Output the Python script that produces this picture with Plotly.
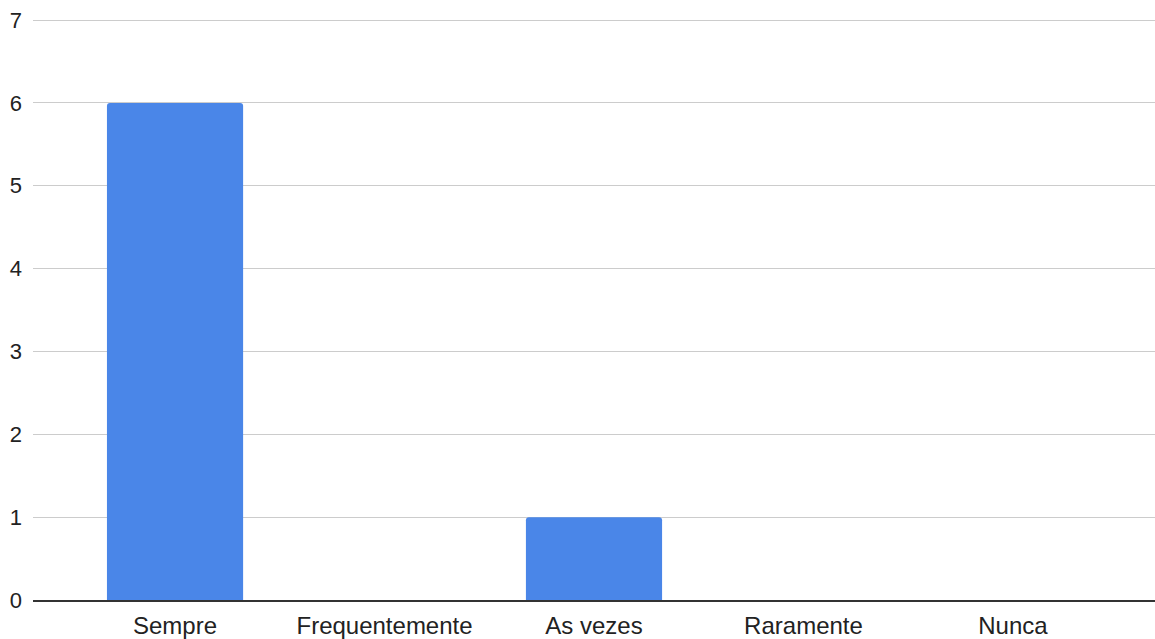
import plotly.graph_objects as go

categories = ["Sempre", "Frequentemente", "As vezes", "Raramente", "Nunca"]
counts = [6, 0, 1, 0, 0]
y_ticks = [0, 1, 2, 3, 4, 5, 6, 7]

fig = go.Figure(
    go.Bar(
        x=categories,
        y=counts,
        marker=dict(color="#4a86e8", line=dict(width=0), cornerradius=3),
        width=0.65,
        hoverinfo="x+y",
    )
)

fig.update_layout(
    width=1155,
    height=639,
    margin=dict(l=33, r=0, t=18, b=39),
    paper_bgcolor="white",
    plot_bgcolor="white",
    showlegend=False,
    font=dict(family="Liberation Sans, Arial, sans-serif", color="#222222"),
)

fig.update_xaxes(
    range=[-0.678, 4.678],
    showgrid=False,
    showline=True,
    linecolor="#333333",
    linewidth=2,
    ticks="",
    tickfont=dict(size=24, color="#222222"),
    ticklabelstandoff=3,
    fixedrange=True,
)

# slight headroom above 7 so its gridline is drawn inside the plot area
fig.update_yaxes(
    range=[0, 7.025],
    tickvals=y_ticks,
    ticktext=[str(v) for v in y_ticks],
    showgrid=True,
    gridcolor="#cccccc",
    gridwidth=1,
    zeroline=False,
    showline=False,
    ticks="",
    tickfont=dict(size=22, color="#222222"),
    ticklabelstandoff=10,
    fixedrange=True,
)

fig.write_html("out.html")
